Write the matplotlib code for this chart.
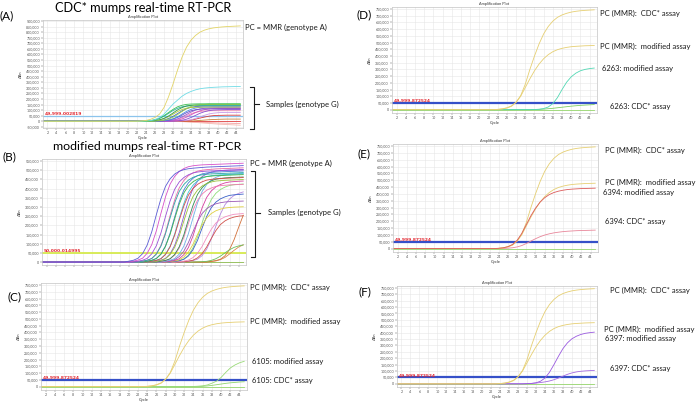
import numpy as np
import matplotlib
matplotlib.use("Agg")
import matplotlib.pyplot as plt
from matplotlib.ticker import FuncFormatter, MultipleLocator

plt.rcParams["font.family"] = ["Lato", "DejaVu Sans"]

W, H = 696, 403
N_CYCLES = 45
cycles = np.arange(1, N_CYCLES + 1)

# Each trace is in thousands of ΔRn, listed up to cycle 45; earlier cycles sit on the 0 baseline.
# --- (A) CDC* assay ---
a_pc = [1, 3, 8, 18, 35, 65, 125, 220, 335, 460, 575, 665, 728, 770, 800, 818, 830, 838, 843, 847,
        850, 852, 854, 856]
a_cyan = [1, 3, 7, 15, 33, 65, 110, 155, 190, 225, 250, 268, 282, 292, 298, 302, 305, 307, 309, 310,
          311, 312, 312]
a_s01 = [3, 6, 14, 28, 51, 79, 107, 130, 144, 152, 155, 156, 157, 157, 158, 158, 158, 158, 158, 158, 158, 158]
a_s02 = [1, 3, 6, 14, 27, 48, 75, 102, 123, 137, 144, 147, 148, 149, 150, 150, 150, 150, 150, 150, 150, 150]
a_s03 = [3, 6, 13, 26, 46, 71, 97, 117, 130, 137, 140, 141, 142, 142, 142, 142, 142, 142, 142, 142, 142, 142]
a_s04 = [0, 1, 3, 6, 12, 25, 44, 69, 94, 113, 126, 132, 135, 137, 138, 138, 138, 138, 138, 138, 138, 138]
a_s05 = [0, 1, 2, 5, 10, 20, 37, 60, 88, 114, 133, 144, 149, 151, 152, 152, 152, 152, 152, 152, 152, 152]
a_s06 = [0, 0, 1, 3, 6, 12, 23, 40, 65, 89, 107, 119, 125, 128, 129, 130, 130, 130, 130, 130, 130, 130]
a_s07 = [0, 0, 0, 1, 3, 5, 11, 22, 39, 61, 83, 100, 111, 117, 120, 121, 122, 122, 122, 122, 122, 122]
a_s08 = [0, 0, 0, 0, 1, 3, 5, 10, 21, 37, 58, 78, 94, 105, 110, 113, 114, 115, 115, 115, 115, 115]
a_s09 = [0, 0, 0, 0, 0, 1, 2, 5, 9, 19, 34, 53, 72, 86, 96, 101, 103, 104, 105, 105, 105, 105]
a_s10 = [0, 0, 0, 1, 2, 4, 9, 18, 32, 50, 68, 81, 88, 92, 94, 95, 95, 95, 95, 95, 95, 95]
a_s11 = [0, 0, 0, 0, 0, 0, 1, 2, 4, 8, 14, 26, 40, 54, 66, 73, 77, 79, 80, 80, 80, 80]
a_s12 = [0, 0, 0, 0, 0, 0, 1, 2, 3, 6, 11, 19, 29, 38, 46, 51, 53, 54, 55, 55, 55, 55]
a_s13 = [0, 0, 0, 0, 0, 0, 0, 0, 1, 2, 3, 5, 8, 11, 14, 16, 18, 19, 20, 20, 20, 20]
a_s14 = [1, 2, 5, 12, 23, 41, 64, 87, 106, 118, 124, 126, 127, 128, 128, 128, 128, 128, 128, 128, 128, 128]
a_s15 = [0, 0, 1, 2, 5, 10, 20, 35, 56, 77, 94, 104, 109, 111, 112, 112, 112, 112, 112, 112, 112, 112]
a_low1 = [-1, -2, -3, -4, -6, -7, -9, -10, -12, -13, -15, -16, -17, -18, -19, -20]
a_low2 = [-2, -4, -7, -10, -13, -16, -19, -22, -25, -27, -29, -31, -33, -35]
a_ntc = [0]

a_series = [
    (a_low1, "#f4a3a3"), (a_low2, "#f7b9b0"), (a_ntc, "#e04040"),
    (a_s13, "#c8843c"), (a_s12, "#d83c3c"), (a_s11, "#c89be8"), (a_s10, "#f08cb4"),
    (a_s09, "#8a4fd0"), (a_s08, "#d04fc0"), (a_s07, "#9b5bd6"), (a_s15, "#6a4fc8"),
    (a_s06, "#4a8fe0"), (a_s04, "#3a5fd0"), (a_s14, "#b8c83c"), (a_s03, "#2ab0a0"),
    (a_s02, "#2e9a48"), (a_s05, "#9ad04a"), (a_s01, "#3cc050"),
    (a_cyan, "#70dce6"), (a_pc, "#e2d466"),
]

# --- (B) modified assay ---
b01 = [5, 10, 21, 46, 93, 165, 258, 345, 412, 453, 479, 494, 503, 508, 511, 513, 515, 517, 518, 519,
       520, 521, 522, 523, 524, 525]
b02 = [5, 11, 21, 48, 95, 170, 265, 355, 424, 466, 493, 509, 519, 524, 527, 529, 530, 531, 532, 533,
       534, 535, 536, 537, 538]
b03 = [5, 10, 20, 45, 89, 158, 248, 332, 396, 436, 460, 475, 485, 490, 493, 495, 496, 497, 498, 499,
       500, 500, 501, 502]
b04 = [5, 10, 19, 43, 86, 154, 240, 322, 384, 422, 446, 461, 470, 475, 478, 480, 481, 482, 483, 484,
       485, 486, 487]
b05 = [5, 10, 20, 45, 91, 162, 253, 338, 404, 444, 470, 485, 495, 500, 503, 505, 507, 508, 509, 510,
       511, 512, 513]
b06 = [5, 9, 19, 42, 85, 150, 235, 315, 376, 414, 437, 451, 461, 465, 468, 470, 471, 472, 473, 474,
       475, 476]
b07 = [5, 10, 20, 44, 88, 157, 245, 328, 392, 431, 456, 470, 480, 485, 488, 490, 491, 492, 493, 494,
       495, 496]
b08 = [5, 9, 18, 41, 82, 146, 228, 305, 364, 400, 423, 437, 446, 450, 453, 455, 456, 457, 458, 459, 460]
b09 = [5, 10, 19, 43, 86, 152, 238, 318, 380, 418, 442, 456, 466, 470, 473, 475, 476, 477, 478, 479, 480]
b10 = [4, 9, 18, 40, 80, 142, 223, 298, 356, 392, 414, 427, 436, 441, 443, 445, 446, 447, 448, 449]
b11 = [5, 10, 20, 45, 90, 160, 250, 335, 400, 440, 465, 480, 490, 495, 498, 500, 501, 502, 503, 504]
b12 = [5, 9, 18, 41, 83, 147, 230, 308, 368, 405, 428, 442, 451, 455, 458, 460, 461, 462, 463]
b13 = [4, 8, 17, 38, 76, 134, 210, 281, 336, 370, 391, 403, 412, 416, 418, 420, 421, 422, 423]
b14 = [5, 10, 19, 43, 86, 154, 240, 322, 384, 422, 446, 461, 470, 475, 478, 480, 481, 482]
b15 = [3, 7, 13, 30, 59, 106, 165, 221, 264, 290, 307, 317, 323, 327, 329, 330, 331, 332]
b16 = [4, 9, 18, 40, 79, 141, 220, 295, 352, 387, 409, 422, 431, 436, 438, 440, 441]
b17 = [3, 6, 12, 27, 54, 96, 150, 201, 240, 264, 279, 288, 294, 297, 299, 300, 301]
b18 = [4, 7, 15, 33, 67, 118, 185, 248, 296, 326, 344, 355, 363, 366, 368, 370]
b19 = [4, 9, 17, 38, 77, 136, 213, 285, 340, 374, 395, 408, 417, 421, 423, 425]
b20 = [3, 5, 11, 24, 48, 85, 133, 178, 212, 233, 246, 254, 260, 262, 264]
b21 = [3, 5, 10, 23, 46, 82, 128, 171, 204, 224, 237, 245, 250, 252]
b22 = [4, 8, 16, 35, 70, 125, 195, 261, 312, 343, 363, 374, 382]
b23 = [1, 2, 4, 9, 18, 32, 50, 67, 80, 88, 93]
b24 = [4, 8, 15, 34, 68, 122, 190, 255]
b25 = [1, 3, 6, 13, 25, 44, 64, 82, 94]
b_ntc = [0]

b_series = [
    (b_ntc, "#d8603c"), (b_ntc, "#8fd36a"),
    (b25, "#d68a4a"), (b24, "#d2703a"), (b23, "#6abf5a"), (b22, "#b58ae0"), (b21, "#d0504a"),
    (b20, "#f08fc0"), (b19, "#8fdc7a"), (b18, "#3a60c8"), (b17, "#e0d040"), (b16, "#d63fa0"),
    (b15, "#9b59b6"), (b14, "#6fb0e8"), (b13, "#f07ab0"), (b12, "#2e8b57"), (b11, "#8a5ad6"),
    (b10, "#9bc23c"), (b09, "#3fc6d6"), (b08, "#d64a4a"), (b07, "#4a7bd6"), (b06, "#3cb44b"),
    (b05, "#e86aa6"), (b04, "#2aa6a6"), (b03, "#9a4fd6"), (b02, "#d64fc9"), (b01, "#5b5bd6"),
]

# --- (C)-(F) positive control run in both assays, plus one sample each ---
pc_cdc = [2, 6, 14, 28, 55, 105, 190, 300, 400, 490, 565, 620, 660, 688, 706, 718, 727, 733, 737, 740,
          742, 744]
pc_mod = [2, 5, 12, 25, 55, 100, 165, 230, 290, 340, 380, 410, 432, 447, 457, 464, 469, 472, 474, 476,
          477, 478]
ntc = [0]

s6105_mod = [1, 3, 6, 12, 25, 40, 68, 105, 138, 160, 176, 187]
s6105_cdc = [2, 5, 9, 14, 19, 24, 28, 31, 34, 36]
s6263_mod = [1, 3, 8, 20, 45, 90, 150, 205, 245, 272, 290, 300, 306, 310]
s6263_cdc = [1, 2, 4, 7, 10, 14, 18, 22, 26, 29, 32, 34, 36, 38]
s6394_mod = [2, 6, 14, 30, 60, 110, 175, 240, 295, 340, 372, 395, 410, 420, 427, 432, 435, 437, 439, 440,
             441, 442]
s6394_cdc = [1, 3, 6, 12, 22, 37, 55, 72, 87, 99, 108, 115, 120, 124, 127, 129, 131, 132, 133, 134, 135]
s6397_mod = [1, 3, 8, 20, 45, 90, 150, 215, 275, 320, 352, 372, 386, 395, 400, 404]
s6397_cdc = [1, 3, 6, 10, 15, 22, 32, 45, 60, 74, 85, 93, 98, 101, 103, 105]

PC_COLOR = "#e6cf72"
NTC_COLOR = "#96d66c"


def trace(vals):
    vals = np.asarray(vals, dtype=float)
    return np.r_[np.zeros(N_CYCLES - len(vals)), vals] * 1000


fig = plt.figure(figsize=(W / 100, H / 100), dpi=100)
ov = fig.add_axes([0, 0, 1, 1])
ov.set_xlim(0, W)
ov.set_ylim(H, 0)
ov.axis("off")


def amp_panel(box, ylim, ystep, series, thr, thr_text, thr_color, thr_lw, xlabels=True):
    l, t, r, b = box
    ax = fig.add_axes([l / W, 1 - b / H, (r - l) / W, (b - t) / H])
    for vals, color in series:
        ax.plot(cycles, trace(vals), color=color, lw=0.6)
    ax.axhline(thr, color=thr_color, lw=thr_lw, zorder=1)
    ax.text(1.3, thr, thr_text, color="#e3262f", fontsize=3.2, fontweight="bold",
            va="bottom", ha="left", family="DejaVu Sans")
    ax.set_xlim(1, 45.6)
    ax.set_ylim(*ylim)
    ax.xaxis.set_major_locator(MultipleLocator(2))
    ax.yaxis.set_major_locator(MultipleLocator(ystep))
    ax.yaxis.set_major_formatter(FuncFormatter(lambda v, _: f"{v:,.0f}"))
    ax.grid(True, color="#e6e6e6", lw=0.4)
    ax.set_axisbelow(True)
    for s in ax.spines.values():
        s.set_color("#c4c4c4")
        s.set_linewidth(0.5)
    ax.tick_params(labelsize=2.6, length=1.2, width=0.3, pad=1, colors="#555555")
    ax.set_title("Amplification Plot", fontsize=2.8, pad=1.5, color="#333333")
    ax.set_ylabel("ΔRn", fontsize=3, labelpad=2, color="#333333")
    if xlabels:
        ax.set_xlabel("Cycle", fontsize=3, labelpad=0.5, color="#333333")
    else:
        ax.tick_params(axis="x", labelbottom=False)
    return ax


amp_panel((43, 20, 243, 128), (-60000, 909000), 50000, a_series,
          50000, "49,999.002819", "#8cc4ec", 0.9)
amp_panel((42, 159, 246, 265), (-16000, 561000), 50000, b_series,
          50000, "50,000.014995", "#d6ea4c", 1.3, xlabels=False)

cdef_ylim = (-25000, 765000)
thr_blue = "#3550c8"
amp_panel((41, 283, 247, 390), cdef_ylim, 50000,
          [(ntc, NTC_COLOR), (s6105_cdc, "#8fd46e"), (s6105_mod, "#9ada78"),
           (pc_mod, PC_COLOR), (pc_cdc, PC_COLOR)],
          50000, "49,999.872524", thr_blue, 1.6)
amp_panel((392, 7, 597, 113), cdef_ylim, 50000,
          [(ntc, NTC_COLOR), (s6263_cdc, "#7ccf62"), (s6263_mod, "#52d8b4"),
           (pc_mod, PC_COLOR), (pc_cdc, PC_COLOR)],
          50000, "49,999.872524", thr_blue, 1.6)
amp_panel((393, 144, 598, 252), cdef_ylim, 50000,
          [(ntc, NTC_COLOR), (s6394_cdc, "#e8869a"), (pc_mod, PC_COLOR), (pc_cdc, PC_COLOR),
           (s6394_mod, "#dc5a5a")],
          50000, "49,999.872524", thr_blue, 1.6)
amp_panel((397, 286, 597, 387), cdef_ylim, 50000,
          [(ntc, NTC_COLOR), (s6397_cdc, "#a46ae0"), (s6397_mod, "#9a5ae0"),
           (pc_mod, PC_COLOR), (pc_cdc, PC_COLOR)],
          50000, "49,999.872524", thr_blue, 1.6)

# --- titles, panel letters and annotations (pixel coordinates) ---
ov.text(143, 7.5, "CDC* mumps real-time RT-PCR", fontsize=9.2, ha="center", va="center")
ov.text(147, 146.5, "modified mumps real-time RT-PCR", fontsize=8.9, ha="center", va="center")
for letter, (x, y) in {"(A)": (7, 15.5), "(B)": (9, 157), "(C)": (14, 297),
                       "(D)": (364, 15), "(E)": (364, 154), "(F)": (365, 292)}.items():
    ov.text(x, y, letter, fontsize=8.5, ha="center", va="center")

notes = [
    ("PC = MMR (genotype A)", 245, 27), ("Samples (genotype G)", 266, 104),
    ("PC = MMR (genotype A)", 250, 163), ("Samples (genotype G)", 268, 212.5),
    ("PC (MMR):  CDC* assay", 250.5, 287.5), ("PC (MMR):  modified assay", 250.5, 321.5),
    ("6105: modified assay", 252, 361.5), ("6105: CDC* assay", 252, 381),
    ("PC (MMR):  CDC* assay", 600.5, 13.5), ("PC (MMR):  modified assay", 600.5, 46.5),
    ("6263: modified assay", 602, 69), ("6263: CDC* assay", 610, 106.5),
    ("PC (MMR):  CDC* assay", 605, 150.5), ("PC (MMR):  modified assay", 605, 182.5),
    ("6394: modified assay", 603, 192.5), ("6394: CDC* assay", 605, 221.5),
    ("PC (MMR):  CDC* assay", 610, 290), ("PC (MMR):  modified assay", 604, 329.5),
    ("6397: modified assay", 605, 338), ("6397: CDC* assay", 610, 369),
]
for text, x, y in notes:
    ov.text(x, y, text, fontsize=5.5, ha="left", va="center", color="#1a1a1a")

# brackets around the sample curves
for (top, bot, xv, mid) in [(86.5, 128.5, 254, 104), (170.5, 256.5, 255, 212.5)]:
    ov.plot([xv - 4, xv, xv, xv - 4], [top, top, bot, bot], color="#1a1a1a", lw=0.8)
    ov.plot([xv, xv + 4.5], [mid, mid], color="#1a1a1a", lw=0.8)

fig.savefig("out.png", dpi=100)
